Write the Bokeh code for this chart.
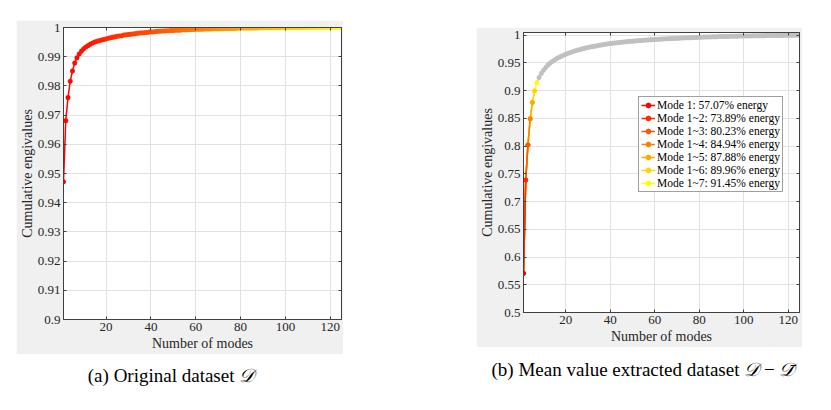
from bokeh.plotting import figure
from bokeh.models import (FixedTicker, PrintfTickFormatter, LinearAxis, Range1d,
                          Legend, LegendItem, Div, Spacer)
from bokeh.layouts import row, column
from bokeh.embed import file_html
from bokeh.resources import INLINE

# ---------------- data ----------------
modes = list(range(1, 126))

orig_cum = [
    0.9472, 0.9681, 0.9760, 0.9816, 0.9851, 0.9878, 0.9896, 0.9909, 0.9919, 0.9927,
    0.9933, 0.9938, 0.9943, 0.9947, 0.9950, 0.9953, 0.9955, 0.9957, 0.9959, 0.9961,
    0.9963, 0.9965, 0.9967, 0.9968, 0.9970, 0.9971, 0.9972, 0.9974, 0.9975, 0.9976,
    0.9977, 0.9978, 0.9979, 0.9980, 0.9981, 0.9982, 0.9982, 0.9983, 0.9984, 0.9985,
    0.9985, 0.9986, 0.9987, 0.9987, 0.9988, 0.9988, 0.9989, 0.9989, 0.9990, 0.9990,
    0.9991, 0.9991, 0.9991, 0.9992, 0.9992, 0.9992, 0.9993, 0.9993, 0.9993, 0.9994,
    0.9994, 0.9994, 0.9994, 0.9995, 0.9995, 0.9995, 0.9995, 0.9996, 0.9996, 0.9996,
    0.9996, 0.9996, 0.9997, 0.9997, 0.9997, 0.9997, 0.9997, 0.9997, 0.9998, 0.9998,
    0.9998, 0.9998, 0.9998, 0.9998, 0.9998, 0.9998, 0.9998, 0.9999, 0.9999, 0.9999,
    0.9999, 0.9999, 0.9999, 0.9999, 0.9999, 0.9999, 0.9999, 0.9999, 0.9999, 0.9999,
    0.9999, 0.9999, 0.9999, 0.9999, 0.9999, 0.99995, 0.99995, 0.99995, 0.99995, 0.99995,
    0.99996, 0.99997, 0.99997, 0.99998, 0.99998, 0.99998, 0.99999, 0.99999, 0.99999, 0.99999,
    1.0, 1.0, 1.0, 1.0, 1.0,
]

centered_cum = [
    0.5707, 0.7389, 0.8023, 0.8494, 0.8788, 0.8996, 0.9145, 0.9240, 0.9312, 0.9370,
    0.9420, 0.9462, 0.9498, 0.9529, 0.9556, 0.9580, 0.9602, 0.9622, 0.9641, 0.9658,
    0.9674, 0.9689, 0.9703, 0.9716, 0.9728, 0.9739, 0.9750, 0.9760, 0.9770, 0.9779,
    0.9788, 0.9796, 0.9804, 0.9812, 0.9819, 0.9826, 0.9833, 0.9839, 0.9845, 0.9851,
    0.9856, 0.9861, 0.9866, 0.9871, 0.9875, 0.9879, 0.9883, 0.9887, 0.9891, 0.9894,
    0.9898, 0.9901, 0.9904, 0.9907, 0.9910, 0.9913, 0.9916, 0.9918, 0.9921, 0.9924,
    0.9926, 0.9929, 0.9931, 0.9933, 0.9936, 0.9938, 0.9940, 0.9942, 0.9944, 0.9946,
    0.9948, 0.9950, 0.9952, 0.9954, 0.9956, 0.9957, 0.9959, 0.9961, 0.9962, 0.9964,
    0.9965, 0.9967, 0.9968, 0.9970, 0.9971, 0.9972, 0.9974, 0.9975, 0.9976, 0.9977,
    0.9978, 0.9979, 0.9980, 0.9981, 0.9982, 0.9983, 0.9984, 0.9985, 0.9986, 0.9987,
    0.9988, 0.9988, 0.9989, 0.9990, 0.9991, 0.9991, 0.9992, 0.9993, 0.9993, 0.9994,
    0.9995, 0.9995, 0.9996, 0.9996, 0.9997, 0.9997, 0.9998, 0.9998, 0.9999, 0.9999,
    0.9999, 1.0000, 1.0000, 1.0000, 1.0000,
]

highlight_count = 7
legend_labels = [
    "Mode 1: 57.07% energy",
    "Mode 1~2: 73.89% energy",
    "Mode 1~3: 80.23% energy",
    "Mode 1~4: 84.94% energy",
    "Mode 1~5: 87.88% energy",
    "Mode 1~6: 89.96% energy",
    "Mode 1~7: 91.45% energy",
]

x_ticks = [20, 40, 60, 80, 100, 120]
y_ticks_a = [0.9, 0.91, 0.92, 0.93, 0.94, 0.95, 0.96, 0.97, 0.98, 0.99, 1.0]
y_ticks_b = [0.5, 0.55, 0.6, 0.65, 0.7, 0.75, 0.8, 0.85, 0.9, 0.95, 1.0]

x_label = "Number of modes"
y_label = "Cumulative engivalues"
caption_a = "(a) Original dataset <i>&#x1D49F;</i>"
caption_b = "(b) Mean value extracted dataset <i>&#x1D49F;</i> &minus; <i>&#x1D49F;&#x0304;</i>"

# ---------------- styling ----------------
FIG_BG = "#f0f0f0"
AX_COL = "#404040"
TXT_COL = "#262626"
GRID_COL = "#e2e2e2"
FONT = "Liberation Serif"


def autumn(t):
    return "#ff%02x00" % int(round(255 * t))


def style(p, yticks):
    p.xaxis.ticker = FixedTicker(ticks=x_ticks)
    p.yaxis.ticker = FixedTicker(ticks=yticks)
    p.yaxis.formatter = PrintfTickFormatter(format="%g")
    for ax in (p.xaxis[0], p.yaxis[0]):
        ax.axis_line_color = AX_COL
        ax.major_tick_line_color = AX_COL
        ax.major_tick_in = 3
        ax.major_tick_out = 0
        ax.minor_tick_line_color = None
        ax.major_label_text_font = FONT
        ax.major_label_text_font_size = "13px"
        ax.major_label_text_color = TXT_COL
        ax.axis_label_text_font = FONT
        ax.axis_label_text_font_size = "14px"
        ax.axis_label_text_font_style = "normal"
        ax.axis_label_text_color = TXT_COL
        ax.major_label_standoff = 3
    p.xaxis.axis_label_standoff = 2
    p.yaxis.axis_label_standoff = 0
    p.xaxis.axis_label = x_label
    p.yaxis.axis_label = y_label
    # mirrored tick marks on the right and top (box on), without labels
    for loc, tk in (("right", yticks), ("above", x_ticks)):
        ax = LinearAxis(ticker=FixedTicker(ticks=tk))
        ax.major_label_text_font_size = "1px"
        ax.major_label_text_color = None
        ax.major_label_standoff = 0
        ax.axis_line_color = AX_COL
        ax.major_tick_line_color = AX_COL
        ax.major_tick_in = 3
        ax.major_tick_out = 0
        ax.minor_tick_line_color = None
        p.add_layout(ax, loc)
    p.xgrid.ticker = FixedTicker(ticks=x_ticks)
    p.ygrid.ticker = FixedTicker(ticks=yticks)
    p.grid.grid_line_color = GRID_COL
    p.outline_line_color = AX_COL


# ---------------- figure (a) ----------------
pa = figure(width=327, height=334, x_range=Range1d(1, 125), y_range=Range1d(0.9, 1.0),
            output_backend="svg", toolbar_location=None,
            border_fill_color=FIG_BG, background_fill_color="white",
            min_border_left=47, min_border_right=2, min_border_top=7, min_border_bottom=35)
style(pa, y_ticks_a)

n = len(modes)
cols_a = [autumn(i / (n - 1)) for i in range(n)]
pa.segment(x0=modes[:-1], y0=orig_cum[:-1], x1=modes[1:], y1=orig_cum[1:],
           line_color=cols_a[:-1], line_width=1.5)
pa.scatter(modes, orig_cum, marker="asterisk", size=5, line_color=cols_a, line_width=1.5)

# ---------------- figure (b) ----------------
pb = figure(width=326, height=320, x_range=Range1d(1, 125), y_range=Range1d(0.5, 1.005),
            output_backend="svg", toolbar_location=None,
            border_fill_color=FIG_BG, background_fill_color="white",
            min_border_left=47, min_border_right=3, min_border_top=5, min_border_bottom=35)
style(pb, y_ticks_b)

k0 = highlight_count
pb.line(modes[k0 - 1:], centered_cum[k0 - 1:], line_color="#c0c0c0", line_width=1.5)
pb.scatter(modes[k0:], centered_cum[k0:], marker="asterisk", size=5,
           line_color="#c0c0c0", line_width=1.5)

cols_b = [autumn(k / (k0 - 1)) for k in range(k0)]
rend = {}
for k in range(k0, 0, -1):
    c = cols_b[k - 1]
    lr = pb.line(modes[:k], centered_cum[:k], line_color=c, line_width=1.5)
    sr = pb.scatter(modes[:k], centered_cum[:k], marker="circle", size=4,
                    line_color=c, fill_color=c)
    rend[k] = [lr, sr]

legend = Legend(items=[LegendItem(label=legend_labels[k - 1], renderers=rend[k])
                       for k in range(1, k0 + 1)],
                location=(115, 120), orientation="vertical")
legend.label_text_font = FONT
legend.label_text_font_size = "11.5px"
legend.label_text_color = "black"
legend.glyph_height = 12
legend.glyph_width = 14
legend.label_height = 12
legend.label_standoff = 2
legend.spacing = 1
legend.padding = 2
legend.margin = 0
legend.border_line_color = AX_COL
legend.background_fill_color = "white"
legend.background_fill_alpha = 1
pb.add_layout(legend, "center")

# ---------------- captions ----------------
def caption(txt, w):
    html = ('<span style="font-family:\'Liberation Serif\',serif;font-size:19px;'
            'color:black;white-space:nowrap">%s</span>' % txt)
    return Div(text=html, width=w, margin=0, styles={"text-align": "center"})


div_a = caption(caption_a, 310)
div_b = caption(caption_b, 334)

layout = row(
    Spacer(width=16, margin=0),
    column(Spacer(height=20, margin=0), pa, Spacer(height=8, margin=0), div_a),
    Spacer(width=133, margin=0),
    column(Spacer(height=27, margin=0), pb, Spacer(height=9, margin=0), div_b),
)

open("out.html", "w").write(file_html(layout, INLINE))
